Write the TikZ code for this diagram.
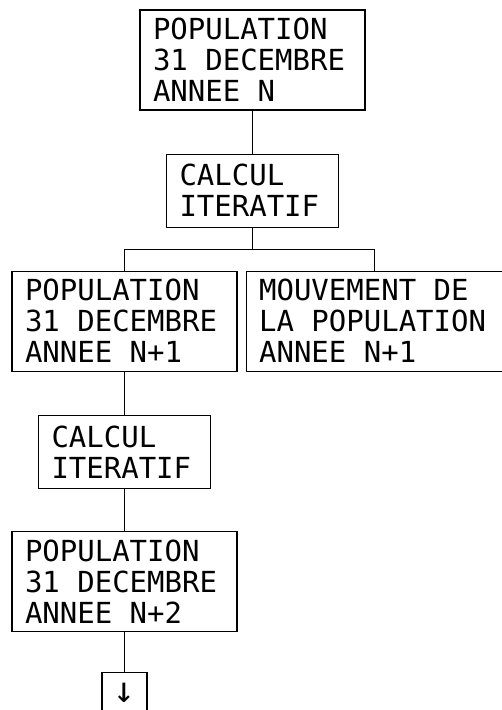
\documentclass[tikz,border=0pt]{standalone}
\usepackage{fontspec}
\setmainfont{DejaVu Sans Mono}
\usetikzlibrary{positioning,calc}
% monospace font, with a full-width word space
\newcommand{\boxfont}{\fontsize{29pt}{31pt}\selectfont}
\tikzset{
  box/.style={draw, rectangle, line width=1.1pt, align=left, inner xsep=13pt, inner ysep=0pt, font=\boxfont,
    execute at begin node={\spaceskip=17.46pt\relax\xspaceskip=17.46pt\relax}}, % common box
  popbox/.style={box, text width=199pt, minimum height=100pt},
  calcbox/.style={box, text width=146pt, minimum height=73pt},
  mvtbox/.style={box, text width=230pt, minimum height=100pt},
  endbox/.style={box, inner xsep=0pt, align=center, minimum width=45pt, minimum height=41pt, font=\fontsize{36pt}{36pt}\selectfont},
  link/.style={line width=1.1pt}
}

\begin{document}
\begin{tikzpicture}
    \useasboundingbox (0,0) rectangle (502pt,-710pt);

    % Year N
    \node[popbox] (pop0) at (252.5pt,-60pt) {POPULATION\\31 DECEMBRE\\ANNEE N};
    \node[calcbox] (calc1) [below=43pt of pop0] {CALCUL\\ITERATIF};

    % Year N+1
    \node[popbox] (pop1) [below=43pt of calc1, xshift=-128pt] {POPULATION\\31 DECEMBRE\\ANNEE N+1};
    \node[mvtbox] (mvt1) [right=8pt of pop1] {MOUVEMENT DE\\LA POPULATION\\ANNEE N+1};
    \node[calcbox] (calc2) [below=43pt of pop1] {CALCUL\\ITERATIF};

    % Year N+2
    \node[popbox] (pop2) [below=42pt of calc2] {POPULATION\\31 DECEMBRE\\ANNEE N+2};
    \node[endbox] (cont) [below=40pt of pop2] {↓};

    % Links
    \coordinate (split) at ($(calc1.south)!0.5!(calc1.south |- pop1.north)$);
    \draw[link] (pop0) -- (calc1);
    \draw[link] (calc1) -- (split);
    \draw[link] (pop1.north) |- (split) -| (mvt1.north);
    \draw[link] (pop1) -- (calc2);
    \draw[link] (calc2) -- (pop2);
    \draw[link] (pop2) -- (cont);
\end{tikzpicture}
\end{document}
